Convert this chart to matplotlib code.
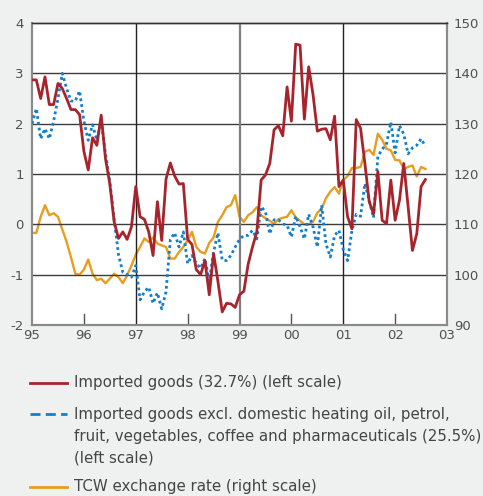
import matplotlib
matplotlib.use("Agg")
import matplotlib.pyplot as plt
from matplotlib.lines import Line2D
import numpy as np

# monthly values, Jan 1995 - Aug 2002
imported_goods = [
    2.87, 2.87, 2.5, 2.93, 2.38, 2.38, 2.8, 2.7, 2.5, 2.28, 2.28, 2.18,
    1.45, 1.08, 1.72, 1.57, 2.17, 1.3, 0.8, 0.05, -0.28, -0.15, -0.3, -0.05,
    0.75, 0.15, 0.1, -0.15, -0.62, 0.45, -0.32, 0.9, 1.22, 0.96, 0.8, 0.81,
    -0.3, -0.4, -0.9, -1.0, -0.72, -1.4, -0.58, -1.13, -1.74, -1.57, -1.58, -1.65,
    -1.4, -1.33, -0.79, -0.45, -0.15, 0.88, 0.98, 1.21, 1.88, 1.96, 1.76, 2.73,
    2.05, 3.58, 3.56, 2.09, 3.13, 2.58, 1.85, 1.89, 1.9, 1.68, 2.15, 0.75,
    0.88, 0.15, -0.09, 2.08, 1.91, 1.21, 0.45, 0.21, 1.05, 0.08, 0.01, 0.88,
    0.08, 0.48, 1.21, 0.35, -0.52, -0.19, 0.75, 0.89,
]
imported_excl = [
    2.0, 2.3, 1.7, 1.9, 1.7, 2.05, 2.5, 3.0, 2.7, 2.45, 2.45, 2.65,
    2.05, 1.67, 1.98, 1.67, 2.05, 1.4, 0.85, 0.1, -0.6, -0.95, -1.0, -1.05,
    -0.82, -1.5, -1.34, -1.25, -1.57, -1.36, -1.68, -1.34, -0.3, -0.17, -0.45, -0.15,
    -0.78, -0.62, -0.78, -0.87, -0.68, -1.13, -0.55, -0.17, -0.71, -0.72, -0.62, -0.45,
    -0.3, -0.22, -0.22, -0.12, -0.29, 0.35, 0.25, -0.19, 0.09, 0.09, 0.01, -0.02,
    -0.25, 0.16, -0.05, -0.29, 0.2, -0.05, -0.45, 0.38, -0.39, -0.65, -0.22, -0.12,
    -0.5, -0.72, -0.12, 0.2, 0.16, 0.81, 0.48, 0.13, 1.35, 1.49, 1.6, 2.03,
    1.42, 1.96, 1.79, 1.4, 1.52, 1.57, 1.7, 1.55,
]
tcw_rate = [
    108.3, 108.3, 111.5, 113.8, 111.8, 112.2, 111.5, 109.0, 106.5, 103.5, 100.2, 100.0,
    101.0, 103.0, 100.2, 98.9, 99.2, 98.3, 99.2, 100.2, 99.5, 98.3, 99.9, 101.8,
    104.0, 105.5, 107.2, 106.5, 107.4, 106.2, 105.8, 105.5, 103.2, 103.2, 104.5, 105.5,
    106.8, 108.5, 105.5, 104.5, 104.2, 106.3, 107.4, 110.5, 111.8, 113.4, 113.8, 115.8,
    111.5, 110.5, 111.8, 112.4, 113.4, 111.8, 111.2, 110.7, 110.1, 111.0, 111.3, 111.5,
    112.8, 111.4, 110.7, 110.0, 110.0, 110.5, 112.3, 113.1, 115.2, 116.5, 117.4, 116.1,
    118.8, 119.6, 121.2, 121.2, 121.4, 124.4, 124.8, 123.8, 128.0, 126.8, 125.0, 124.7,
    122.8, 122.7, 121.0, 121.4, 121.7, 119.5, 121.4, 121.0,
]
year_labels = ["95", "96", "97", "98", "99", "00", "01", "02", "03"]
left_ticks = [-2, -1, 0, 1, 2, 3, 4]
right_ticks = [90, 100, 110, 120, 130, 140, 150]

legend_labels = [
    "Imported goods (32.7%) (left scale)",
    "Imported goods excl. domestic heating oil, petrol,\n"
    "fruit, vegetables, coffee and pharmaceuticals (25.5%)\n"
    "(left scale)",
    "TCW exchange rate (right scale)",
]

RED = "#a8242d"
BLUE = "#137fcb"
ORANGE = "#e89d20"
TXT = "#454545"
BG = "#eff0f0"

months = 1995 + np.arange(len(imported_goods)) / 12.0
years = 1995 + np.arange(len(year_labels))

fig = plt.figure(figsize=(4.83, 4.96), dpi=100, facecolor=BG)
ax = fig.add_axes([0.0663, 0.3448, 0.8592, 0.6088])
ax.set_facecolor("white")

# grid
for v in left_ticks[1:-1]:
    ax.axhline(v, color="#3c3c3c", lw=1.0, zorder=1)
ax.axvline(1997, color="#222222", lw=1.0, zorder=1)
ax.axvline(1999, color="#808080", lw=1.6, zorder=1)
ax.axvline(2001, color="#222222", lw=1.0, zorder=1)
for y in [1996, 1998, 2000, 2002]:
    ax.axvline(y, ymin=0, ymax=0.035, color="#555555", lw=1.0, zorder=1)

ax2 = ax.twinx()
ax2.plot(months, tcw_rate, color=ORANGE, lw=1.7, zorder=3)
ax.plot(months, imported_excl, color=BLUE, lw=2.0, ls=(0, (1, 1.1)), zorder=3)
ax.plot(months, imported_goods, color=RED, lw=2.0, zorder=4)
ax.set_zorder(2)
ax.patch.set_visible(False)
ax2.set_zorder(1)
ax2.set_facecolor("white")
ax2.patch.set_visible(True)

ax.set_xlim(1995, 2003)
ax.set_ylim(-2, 4)
ax2.set_ylim(90, 150)
ax.set_xticks(years)
ax.set_xticklabels(year_labels)
ax.set_yticks(left_ticks)
ax.set_yticklabels([str(t) for t in left_ticks])
ax2.set_yticks(right_ticks)

for a in (ax, ax2):
    a.tick_params(length=0, labelsize=9.5, labelcolor="#505050")
    for s in a.spines.values():
        s.set_color("#8a8a8a")
        s.set_linewidth(1.5)
    a.spines["top"].set_color("#333333")
    a.spines["top"].set_linewidth(1.0)
ax.tick_params(axis="y", pad=6)
ax2.tick_params(axis="y", pad=5)
ax.tick_params(axis="x", pad=3)

# legend drawn by hand below the chart
line_x = [0.062, 0.139]
text_x = 0.153
fs = 10.8
fig.add_artist(Line2D(line_x, [1 - 383 / 496] * 2, color=RED, lw=2.0))
fig.add_artist(Line2D(line_x, [1 - 414 / 496] * 2, color=BLUE, lw=2.0,
                      ls=(0, (3.6, 1.9))))
fig.add_artist(Line2D(line_x, [1 - 487 / 496] * 2, color=ORANGE, lw=2.0))
fig.text(text_x, 1 - 383 / 496, legend_labels[0], fontsize=fs, color=TXT, va="center")
for i, part in enumerate(legend_labels[1].split("\n")):
    fig.text(text_x, 1 - (414 + 22 * i) / 496, part, fontsize=fs, color=TXT, va="center")
fig.text(text_x, 1 - 487 / 496, legend_labels[2], fontsize=fs, color=TXT, va="center")

fig.savefig("out.png", dpi=100, facecolor=BG)
